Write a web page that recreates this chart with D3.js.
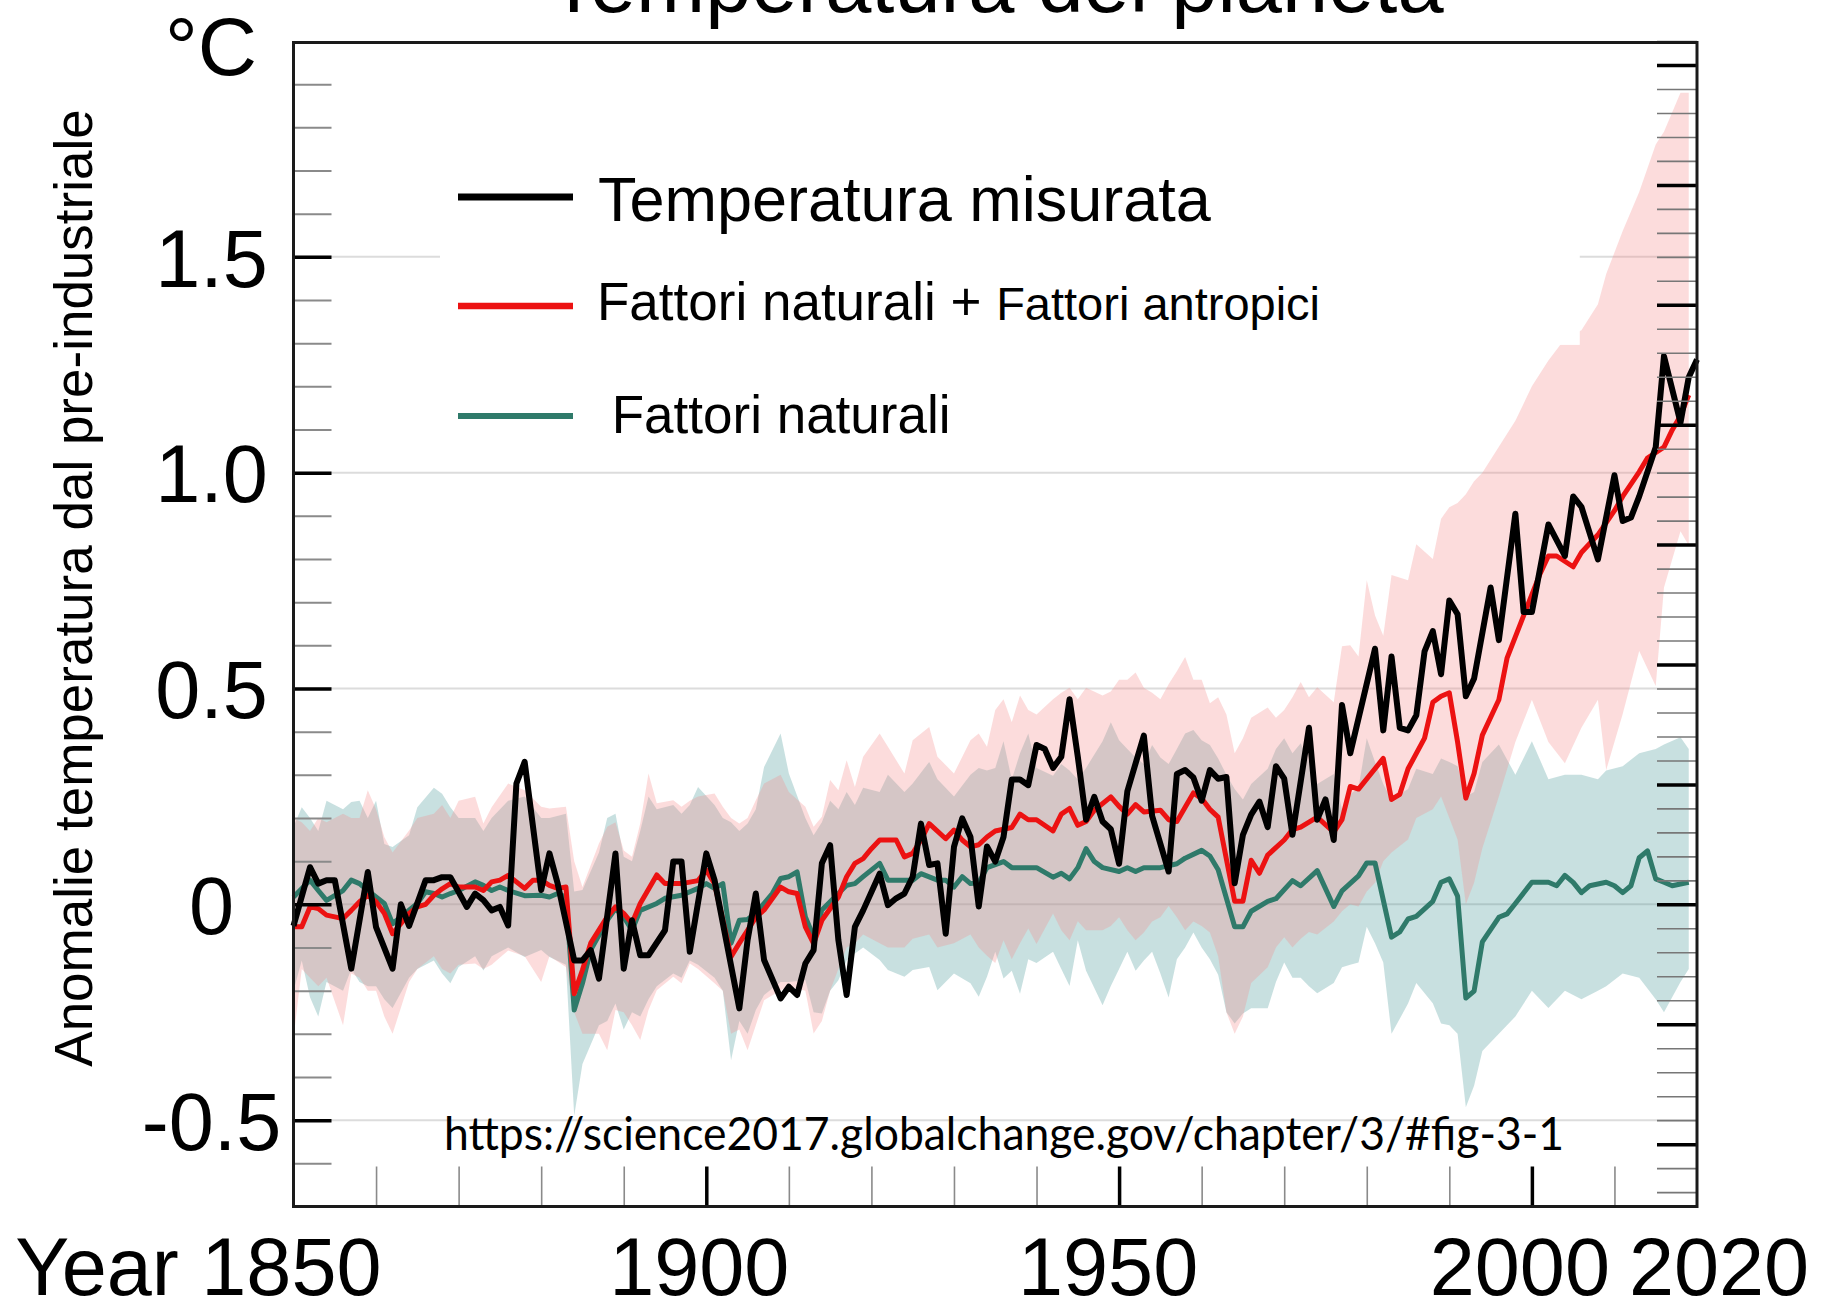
<!DOCTYPE html>
<html><head><meta charset="utf-8">
<script src="https://cdn.jsdelivr.net/npm/d3@7"></script>
<style>html,body{margin:0;padding:0;background:#fff;}svg{display:block;}</style>
</head><body>
<svg id="chart" width="1827" height="1313"></svg>
<script>
// ---------------- DATA ----------------
const titleText = "Temperatura del pianeta";
const yAxisTitle = "Anomalie temperatura dal pre-industriale";
const unitLabel = "°C";
const sourceText = "https://science2017.globalchange.gov/chapter/3/#fig-3-1";

const yMajorTicks = [-0.5, 0, 0.5, 1.0, 1.5];
const yTickLabels = ["-0.5", "0", "0.5", "1.0", "1.5"];
const xMajorTicks = [1900, 1950, 2000];
const xLabelYears = [1850, 1900, 1950, 2000, 2020];
const xTickLabels = ["Year 1850", "1900", "1950", "2000", "2020"];

const legendLabels = ["Temperatura misurata", "Fattori naturali + ", "Fattori antropici", " Fattori naturali"];

// Observed temperature (black)
const obsYears = [1850,1852,1853,1854,1855,1857,1859,1860,1862,1863,1864,1866,1867,1868,1869,1871,1872,1873,1874,1875,1876,1877,1878,1880,1881,1882,1884,1885,1886,1887,1889,1890,1891,1892,1893,1895,1896,1897,1898,1900,1901,1904,1905,1906,1907,1909,1910,1911,1912,1913,1914,1915,1916,1917,1918,1919,1921,1922,1923,1924,1925,1926,1927,1928,1929,1930,1931,1932,1933,1934,1935,1936,1937,1938,1939,1940,1941,1942,1943,1944,1945,1946,1947,1948,1949,1950,1951,1953,1954,1956,1957,1958,1959,1960,1961,1962,1963,1964,1965,1966,1967,1968,1969,1970,1971,1973,1974,1975,1976,1977,1978,1981,1982,1983,1984,1985,1986,1987,1988,1989,1990,1991,1992,1993,1995,1996,1998,1999,2000,2002,2004,2005,2006,2008,2010,2011,2012,2013,2015,2016,2018,2019,2020];
const obsValues = [-0.05,0.086,0.048,0.056,0.056,-0.149,0.075,-0.053,-0.149,0.0,-0.05,0.056,0.056,0.063,0.063,-0.006,0.025,0.01,-0.014,-0.006,-0.049,0.28,0.33,0.033,0.118,0.048,-0.13,-0.13,-0.106,-0.172,0.118,-0.149,-0.037,-0.118,-0.118,-0.06,0.099,0.099,-0.11,0.118,0.056,-0.241,-0.083,0.025,-0.129,-0.218,-0.191,-0.21,-0.137,-0.106,0.095,0.137,-0.083,-0.21,-0.052,-0.014,0.071,-0.002,0.014,0.025,0.064,0.187,0.091,0.095,-0.068,0.133,0.199,0.156,-0.005,0.134,0.099,0.156,0.289,0.289,0.276,0.369,0.36,0.316,0.342,0.475,0.342,0.196,0.249,0.192,0.174,0.094,0.262,0.391,0.205,0.076,0.302,0.311,0.294,0.24,0.311,0.291,0.295,0.049,0.161,0.208,0.238,0.179,0.32,0.291,0.161,0.409,0.196,0.243,0.149,0.462,0.35,0.592,0.403,0.574,0.409,0.403,0.438,0.586,0.633,0.533,0.704,0.672,0.482,0.523,0.734,0.612,0.905,0.677,0.677,0.88,0.807,0.945,0.921,0.799,0.994,0.888,0.896,0.945,1.059,1.27,1.116,1.221,1.262];

// Natural + anthropogenic model mean (red)
const forcedYears = [1850,1851,1852,1853,1854,1856,1857,1858,1859,1860,1861,1862,1863,1864,1865,1866,1867,1868,1869,1870,1872,1873,1874,1875,1876,1877,1878,1879,1880,1881,1882,1883,1884,1885,1886,1888,1889,1890,1891,1892,1894,1895,1896,1897,1899,1900,1901,1903,1904,1905,1906,1907,1909,1910,1911,1912,1913,1914,1916,1917,1918,1919,1920,1921,1923,1924,1925,1926,1927,1929,1930,1931,1932,1933,1934,1935,1937,1938,1939,1940,1942,1943,1944,1945,1946,1947,1949,1950,1951,1952,1953,1955,1956,1957,1959,1960,1961,1962,1964,1965,1966,1967,1968,1970,1971,1972,1974,1976,1977,1978,1979,1982,1983,1984,1985,1987,1988,1989,1990,1991,1992,1993,1994,1996,1997,1999,2001,2002,2003,2005,2006,2008,2010,2011,2013,2014,2016,2017,2018,2019];
const forcedValues = [-0.052,-0.052,-0.006,-0.01,-0.025,-0.033,-0.014,0.006,0.021,0.006,-0.021,-0.068,-0.045,-0.021,-0.006,0.0,0.021,0.036,0.048,0.04,0.04,0.032,0.052,0.056,0.067,0.052,0.037,0.056,0.056,0.044,0.037,0.04,-0.207,-0.152,-0.09,-0.029,-0.006,-0.021,-0.044,0.002,0.068,0.048,0.048,0.048,0.055,0.079,0.048,-0.121,-0.09,-0.06,-0.03,-0.013,0.04,0.029,0.025,-0.052,-0.091,-0.037,0.017,0.064,0.095,0.106,0.129,0.149,0.149,0.11,0.118,0.149,0.187,0.152,0.172,0.149,0.133,0.138,0.156,0.17,0.178,0.209,0.196,0.196,0.17,0.209,0.222,0.183,0.192,0.218,0.249,0.227,0.209,0.231,0.214,0.218,0.196,0.192,0.258,0.245,0.22,0.202,0.007,0.007,0.102,0.072,0.114,0.149,0.173,0.179,0.202,0.167,0.196,0.273,0.267,0.338,0.243,0.255,0.314,0.385,0.468,0.482,0.49,0.376,0.246,0.303,0.392,0.474,0.571,0.669,0.766,0.807,0.807,0.782,0.815,0.856,0.912,0.945,1.002,1.034,1.059,1.099,1.132,1.18];

// Natural-only model mean (teal)
const naturalYears = [1850,1852,1853,1854,1856,1857,1858,1859,1860,1861,1862,1863,1865,1866,1867,1868,1869,1870,1872,1873,1874,1875,1876,1878,1880,1881,1882,1883,1884,1885,1886,1888,1889,1890,1891,1892,1894,1895,1897,1899,1900,1901,1902,1903,1904,1905,1906,1907,1908,1909,1910,1911,1912,1913,1914,1916,1917,1918,1919,1921,1922,1923,1925,1926,1928,1929,1930,1931,1932,1933,1934,1936,1937,1940,1942,1943,1944,1945,1946,1947,1948,1950,1951,1952,1953,1955,1957,1958,1960,1961,1962,1964,1965,1966,1968,1969,1971,1972,1974,1976,1977,1979,1980,1981,1983,1984,1985,1986,1988,1989,1990,1991,1992,1993,1994,1996,1997,1998,2000,2002,2003,2004,2005,2006,2007,2009,2010,2011,2012,2013,2014,2015,2016,2017,2019];
const naturalValues = [0.017,0.056,0.032,0.009,0.032,0.056,0.048,0.032,0.017,0.002,-0.045,-0.029,0.002,0.029,0.025,0.017,0.025,0.032,0.052,0.044,0.032,0.04,0.032,0.02,0.021,0.017,0.025,0.017,-0.245,-0.183,-0.106,-0.037,-0.01,-0.029,-0.06,-0.014,0.002,0.014,0.021,0.037,0.048,0.037,0.048,-0.09,-0.037,-0.035,-0.02,0.002,0.025,0.06,0.064,0.075,-0.029,-0.075,-0.013,0.025,0.044,0.048,0.064,0.095,0.056,0.056,0.056,0.071,0.056,0.056,0.04,0.064,0.048,0.05,0.085,0.099,0.085,0.085,0.063,0.072,0.059,0.085,0.129,0.099,0.085,0.076,0.085,0.076,0.085,0.085,0.094,0.107,0.125,0.112,0.08,-0.052,-0.052,-0.016,0.007,0.013,0.055,0.043,0.078,-0.005,0.031,0.066,0.096,0.096,-0.076,-0.064,-0.034,-0.028,0.007,0.051,0.059,0.019,-0.217,-0.201,-0.087,-0.03,-0.022,0.002,0.051,0.051,0.043,0.067,0.051,0.027,0.043,0.051,0.043,0.027,0.043,0.108,0.124,0.059,0.051,0.043,0.051];

// Model ranges (shaded bands)
const bandYears = [1850,1851,1852,1853,1854,1856,1857,1858,1859,1860,1861,1862,1864,1865,1867,1868,1869,1870,1872,1873,1874,1876,1878,1880,1881,1883,1884,1885,1887,1888,1889,1890,1891,1892,1893,1894,1896,1897,1898,1899,1901,1902,1903,1904,1905,1906,1907,1909,1910,1912,1913,1914,1915,1916,1917,1918,1919,1921,1922,1924,1925,1927,1928,1930,1932,1933,1934,1935,1936,1937,1938,1939,1940,1942,1943,1944,1945,1946,1948,1949,1950,1951,1952,1953,1954,1955,1956,1957,1958,1959,1960,1961,1962,1963,1964,1965,1966,1968,1969,1970,1971,1972,1973,1974,1976,1977,1978,1979,1980,1981,1982,1983,1985,1986,1988,1989,1990,1991,1992,1993,1994,1996,1998,2000,2002,2004,2006,2008,2009,2011,2013,2015,2016,2018,2019];
const forcedLow = [-0.31,-0.15,-0.17,-0.19,-0.17,-0.28,-0.16,-0.17,-0.20,-0.20,-0.26,-0.30,-0.18,-0.15,-0.12,-0.15,-0.16,-0.14,-0.137,-0.15,-0.14,-0.107,-0.12,-0.18,-0.12,-0.145,-0.25,-0.30,-0.30,-0.338,-0.245,-0.25,-0.28,-0.314,-0.245,-0.199,-0.168,-0.183,-0.137,-0.15,-0.183,-0.20,-0.30,-0.29,-0.338,-0.28,-0.222,-0.199,-0.19,-0.20,-0.299,-0.27,-0.20,-0.15,-0.10,-0.09,-0.07,-0.09,-0.10,-0.10,-0.08,-0.07,-0.10,-0.09,-0.07,-0.10,-0.119,-0.136,-0.083,-0.127,-0.09,-0.056,-0.092,-0.021,-0.06,-0.083,-0.039,-0.06,-0.06,-0.05,-0.03,-0.06,-0.083,-0.065,-0.04,-0.03,-0.004,-0.03,-0.06,-0.04,-0.05,-0.065,-0.12,-0.25,-0.30,-0.26,-0.182,-0.146,-0.10,-0.076,-0.10,-0.08,-0.064,-0.07,-0.04,-0.016,0.0,-0.005,0.03,0.05,0.10,0.12,0.15,0.20,0.22,0.25,0.20,0.15,0.00,0.05,0.13,0.25,0.376,0.474,0.376,0.327,0.409,0.474,0.311,0.441,0.587,0.506,0.734,0.864,0.831];
const forcedHigh = [0.20,0.19,0.17,0.20,0.19,0.21,0.20,0.20,0.264,0.22,0.156,0.12,0.171,0.20,0.21,0.23,0.20,0.24,0.249,0.187,0.225,0.28,0.264,0.226,0.222,0.226,0.10,0.04,0.141,0.18,0.19,0.125,0.11,0.187,0.303,0.234,0.241,0.226,0.24,0.25,0.257,0.226,0.20,0.187,0.20,0.241,0.28,0.30,0.26,0.226,0.18,0.203,0.288,0.264,0.334,0.272,0.342,0.396,0.365,0.303,0.38,0.411,0.342,0.303,0.38,0.396,0.365,0.45,0.475,0.422,0.484,0.45,0.44,0.475,0.49,0.502,0.475,0.502,0.484,0.493,0.52,0.52,0.537,0.502,0.49,0.475,0.51,0.54,0.573,0.52,0.52,0.466,0.48,0.44,0.35,0.385,0.432,0.456,0.432,0.45,0.48,0.515,0.48,0.503,0.468,0.598,0.60,0.574,0.751,0.669,0.622,0.763,0.751,0.834,0.80,0.893,0.92,0.93,0.95,0.98,1.00,1.06,1.12,1.20,1.26,1.31,1.33,1.39,1.46,1.56,1.65,1.76,1.79,1.88,1.88];
const naturalLow = [-0.20,-0.13,-0.215,-0.26,-0.18,-0.20,-0.15,-0.18,-0.19,-0.19,-0.22,-0.24,-0.17,-0.15,-0.13,-0.16,-0.183,-0.145,-0.12,-0.153,-0.12,-0.10,-0.122,-0.106,-0.122,-0.14,-0.49,-0.37,-0.28,-0.27,-0.23,-0.29,-0.25,-0.26,-0.22,-0.19,-0.16,-0.17,-0.13,-0.14,-0.17,-0.20,-0.361,-0.27,-0.30,-0.245,-0.21,-0.18,-0.18,-0.176,-0.25,-0.253,-0.20,-0.176,-0.13,-0.114,-0.10,-0.129,-0.152,-0.168,-0.152,-0.145,-0.199,-0.16,-0.183,-0.214,-0.168,-0.11,-0.172,-0.154,-0.207,-0.127,-0.136,-0.11,-0.15,-0.189,-0.083,-0.154,-0.234,-0.189,-0.15,-0.11,-0.154,-0.13,-0.11,-0.16,-0.216,-0.127,-0.10,-0.065,-0.10,-0.127,-0.163,-0.25,-0.276,-0.253,-0.241,-0.241,-0.18,-0.135,-0.17,-0.17,-0.19,-0.206,-0.182,-0.146,-0.14,-0.135,-0.052,-0.09,-0.135,-0.30,-0.23,-0.182,-0.229,-0.276,-0.28,-0.30,-0.47,-0.42,-0.34,-0.30,-0.26,-0.20,-0.24,-0.20,-0.22,-0.20,-0.19,-0.16,-0.17,-0.22,-0.25,-0.18,-0.15];
const naturalHigh = [0.18,0.225,0.20,0.17,0.24,0.22,0.237,0.24,0.20,0.24,0.14,0.133,0.16,0.225,0.27,0.256,0.225,0.20,0.20,0.17,0.20,0.24,0.25,0.20,0.20,0.21,0.03,0.033,0.12,0.20,0.21,0.11,0.10,0.17,0.25,0.22,0.23,0.21,0.23,0.272,0.23,0.20,0.19,0.17,0.187,0.22,0.318,0.396,0.303,0.20,0.16,0.19,0.24,0.22,0.26,0.23,0.27,0.26,0.30,0.26,0.28,0.33,0.29,0.25,0.30,0.316,0.31,0.316,0.378,0.289,0.35,0.396,0.316,0.298,0.325,0.31,0.289,0.316,0.378,0.422,0.38,0.36,0.34,0.325,0.369,0.34,0.325,0.36,0.396,0.404,0.38,0.369,0.338,0.30,0.267,0.243,0.279,0.314,0.36,0.385,0.35,0.373,0.33,0.279,0.302,0.22,0.255,0.27,0.385,0.33,0.279,0.243,0.267,0.314,0.302,0.338,0.33,0.32,0.25,0.26,0.33,0.37,0.30,0.378,0.29,0.30,0.30,0.29,0.31,0.32,0.35,0.36,0.37,0.387,0.36];

// ---------------- DRAWING ----------------
(function draw() {
const FONT = "'Liberation Sans', Arial, Helvetica, sans-serif";
const svg = d3.select("#chart");
const W = 1827, H = 1313;
const pL = 293.5, pR = 1697, pT = 41, pB = 1206.5;

const x = d3.scaleLinear().domain([1850, 2020]).range([pL, pR]);
const y = d3.scaleLinear().domain([-0.7, 2.0]).range([pB, pT]);
const yF = d3.scaleLinear().domain([-0.7 * 1.8, 2.0 * 1.8]).range([pB, pT]);

svg.append("rect").attr("width", W).attr("height", H).attr("fill", "#fff");

// horizontal gridlines
svg.append("g").selectAll("line").data(yMajorTicks).join("line")
  .attr("x1", pL).attr("x2", pR)
  .attr("y1", d => y(d)).attr("y2", d => y(d))
  .attr("stroke", "#dcdcdc").attr("stroke-width", 2);

// bands
const bandRows = bandYears.map((yr, i) => ({yr, fl: forcedLow[i], fh: forcedHigh[i], nl: naturalLow[i], nh: naturalHigh[i]}));
const natArea = d3.area().x(d => x(d.yr)).y0(d => y(d.nl)).y1(d => y(d.nh));
const forArea = d3.area().x(d => x(d.yr)).y0(d => y(d.fl)).y1(d => y(d.fh));
svg.append("path").datum(bandRows).attr("d", natArea).attr("fill", "rgb(72,152,152)").attr("fill-opacity", 0.3);
svg.append("path").datum(bandRows).attr("d", forArea).attr("fill", "rgb(245,140,140)").attr("fill-opacity", 0.3);

// legend background box (white)
svg.append("rect").attr("x", 440).attr("y", 120).attr("width", x(2005.8) - 440).attr("height", y(1.296) - 120).attr("fill", "#fff");

// lines
const toPts = (ys, vs) => ys.map((yr, i) => [yr, vs[i]]);
const line = d3.line().x(d => x(d[0])).y(d => y(d[1]));
svg.append("path").datum(toPts(naturalYears, naturalValues)).attr("d", line)
  .attr("fill", "none").attr("stroke", "#2f7a6a").attr("stroke-width", 5).attr("stroke-linejoin", "round");
svg.append("path").datum(toPts(forcedYears, forcedValues)).attr("d", line)
  .attr("fill", "none").attr("stroke", "#ec1212").attr("stroke-width", 5).attr("stroke-linejoin", "round");
svg.append("path").datum(toPts(obsYears, obsValues)).attr("d", line)
  .attr("fill", "none").attr("stroke", "#000").attr("stroke-width", 6).attr("stroke-linejoin", "round");

// left axis ticks (inward)
const yMinor = d3.range(-6, 20).map(v => v / 10).filter(v => !yMajorTicks.some(m => Math.abs(m - v) < 1e-6));
const gLm = svg.append("g").attr("transform", `translate(${pL},0)`)
  .call(d3.axisRight(y).tickValues(yMinor).tickSize(38).tickFormat(""));
gLm.select(".domain").remove();
gLm.selectAll("line").attr("stroke", "#8a8a8a").attr("stroke-width", 2);
const gLM = svg.append("g").attr("transform", `translate(${pL},0)`)
  .call(d3.axisRight(y).tickValues(yMajorTicks).tickSize(38).tickFormat((d, i) => yTickLabels[i]));
gLM.select(".domain").remove();
gLM.selectAll("line").attr("stroke", "#000").attr("stroke-width", 3.5);
gLM.selectAll("text").attr("x", -82).attr("dy", "0.36em").attr("text-anchor", "middle")
  .attr("font-family", FONT).attr("font-size", 81).attr("fill", "#000");

// right axis ticks (°F, inward)
const fMinor = d3.range(-12, 37).map(v => v / 10).filter(v => Math.abs(v * 2 - Math.round(v * 2)) > 1e-6);
const fMajor = d3.range(-2, 8).map(v => v / 2);
const gRm = svg.append("g").attr("transform", `translate(${pR},0)`)
  .call(d3.axisLeft(yF).tickValues(fMinor).tickSize(40).tickFormat(""));
gRm.select(".domain").remove();
gRm.selectAll("line").attr("stroke", "#777").attr("stroke-width", 1.6);
const gRM = svg.append("g").attr("transform", `translate(${pR},0)`)
  .call(d3.axisLeft(yF).tickValues(fMajor).tickSize(40).tickFormat(""));
gRM.select(".domain").remove();
gRM.selectAll("line").attr("stroke", "#000").attr("stroke-width", 3.5);

// bottom axis ticks (inward)
const xMinor = d3.range(1860, 2020, 10).filter(v => !xMajorTicks.includes(v));
const gBm = svg.append("g").attr("transform", `translate(0,${pB})`)
  .call(d3.axisTop(x).tickValues(xMinor).tickSize(40).tickFormat(""));
gBm.select(".domain").remove();
gBm.selectAll("line").attr("stroke", "#8a8a8a").attr("stroke-width", 1.6);
const gBM = svg.append("g").attr("transform", `translate(0,${pB})`)
  .call(d3.axisTop(x).tickValues(xMajorTicks).tickSize(40).tickFormat(""));
gBM.select(".domain").remove();
gBM.selectAll("line").attr("stroke", "#000").attr("stroke-width", 3.5);

// frame
svg.append("rect").attr("x", pL).attr("y", pT + 1.5).attr("width", pR - pL).attr("height", pB - pT - 1.5)
  .attr("fill", "none").attr("stroke", "#1a1a1a").attr("stroke-width", 3);

// x tick labels
const xShift = [0, -7, -11, -12, 22];
svg.append("g").selectAll("text").data(xLabelYears).join("text")
  .attr("x", (d, i) => i === 0 ? x(d) + 88 : x(d) + xShift[i])
  .attr("y", 1295)
  .attr("text-anchor", (d, i) => i === 0 ? "end" : "middle")
  .attr("font-family", FONT).attr("font-size", 81).attr("fill", "#000")
  .text((d, i) => xTickLabels[i]);

// unit label
svg.append("text").attr("x", 257).attr("y", 75).attr("text-anchor", "end")
  .attr("font-family", FONT).attr("font-size", 82).attr("fill", "#000").text(unitLabel);

// y axis title
svg.append("text").attr("transform", "translate(92,588) rotate(-90)").attr("text-anchor", "middle")
  .attr("font-family", FONT).attr("font-size", 53).attr("fill", "#000").text(yAxisTitle);

// title (partly cut at top, as in the reference)
svg.append("text").attr("x", 996).attr("y", 12).attr("text-anchor", "middle")
  .attr("font-family", FONT).attr("font-size", 83).attr("fill", "#000").text(titleText);

// legend
const legendColors = ["#000", "#ec1212", "#2f7a6a"];
const legendWidths = [7, 6.5, 6];
const legendY = [197, 306, 416];
svg.append("g").selectAll("line").data(legendColors).join("line")
  .attr("x1", 458).attr("x2", 573).attr("y1", (d, i) => legendY[i]).attr("y2", (d, i) => legendY[i])
  .attr("stroke", d => d).attr("stroke-width", (d, i) => legendWidths[i]);
svg.append("text").attr("x", 598).attr("y", 221).attr("font-family", FONT).attr("font-size", 63).text(legendLabels[0]);
const t2 = svg.append("text").attr("x", 597).attr("y", 320).attr("font-family", FONT);
t2.append("tspan").attr("font-size", 53).text(legendLabels[1]);
t2.append("tspan").attr("font-size", 47).text(legendLabels[2]);
svg.append("text").attr("x", 597).attr("y", 433).attr("font-family", FONT).attr("font-size", 53)
  .style("white-space", "pre").text(legendLabels[3]);

// source
svg.append("text").attr("x", 444).attr("y", 1150).attr("font-family", "Lato, 'Open Sans', sans-serif")
  .attr("font-size", 46).attr("textLength", 1120).attr("lengthAdjust", "spacingAndGlyphs").attr("fill", "#000")
  .text(sourceText);
})();
</script>
</body></html>
